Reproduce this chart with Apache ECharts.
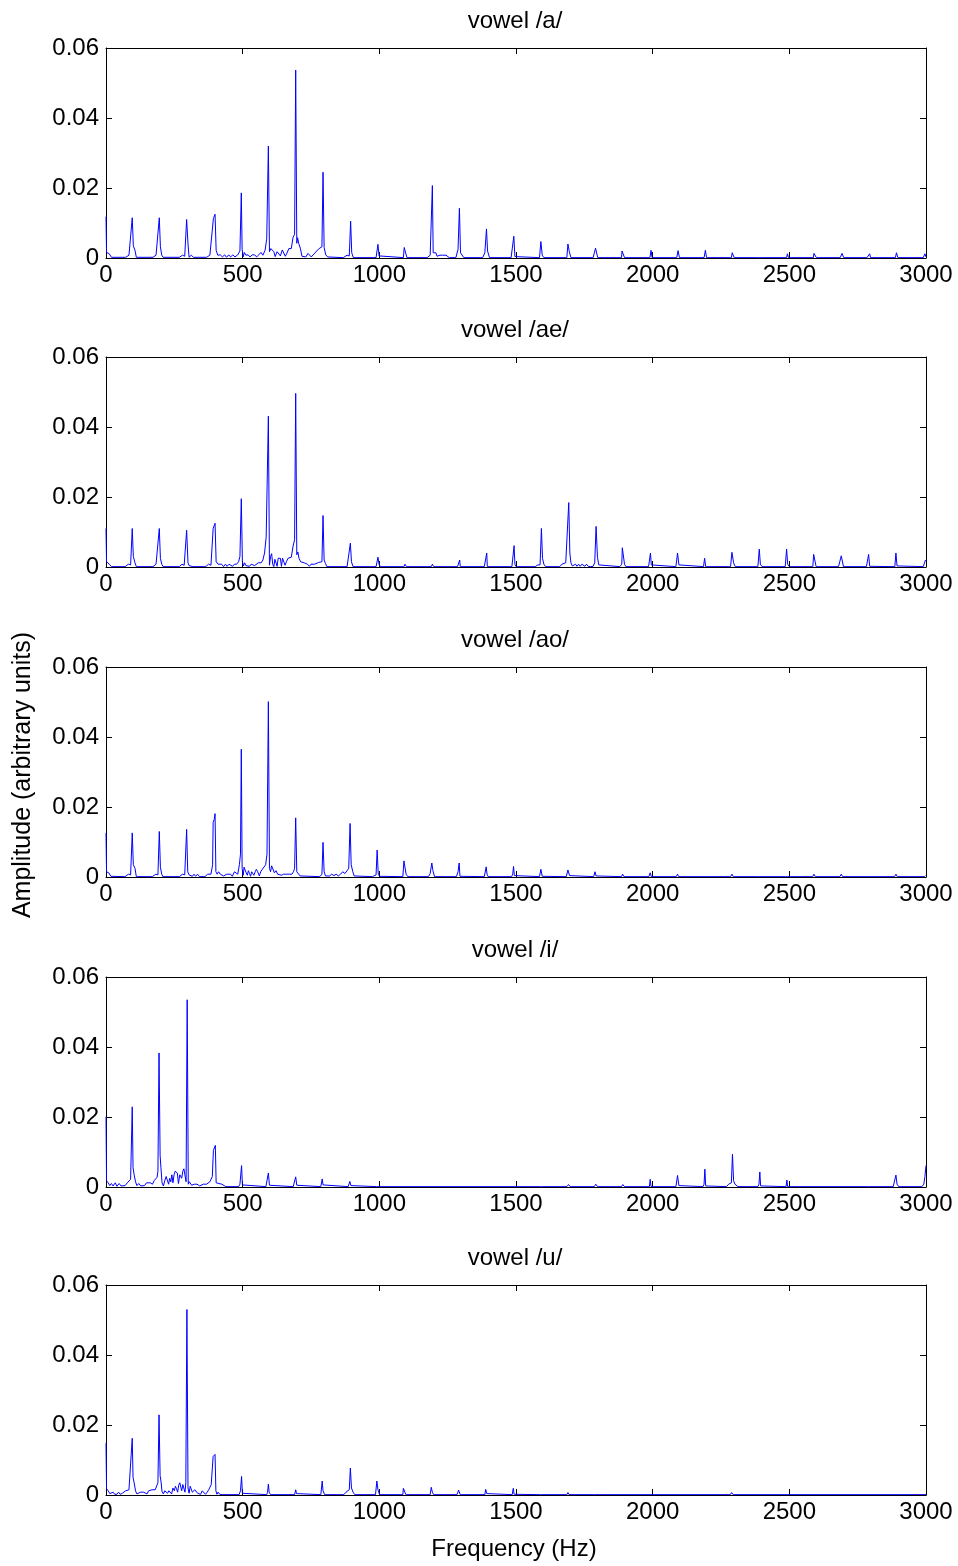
<!DOCTYPE html>
<html>
<head>
<meta charset="utf-8">
<script src="https://cdn.jsdelivr.net/npm/echarts@6/dist/echarts.min.js"></script>
<style>
html,body{margin:0;padding:0;background:#fff;}
#chart{width:958px;height:1566px;}
</style>
</head>
<body>
<div id="chart"></div>
<script>
var titles = ['vowel /a/', 'vowel /ae/', 'vowel /ao/', 'vowel /i/', 'vowel /u/'];
var xLabel = 'Frequency (Hz)';
var yLabel = 'Amplitude (arbitrary units)';
var xTicks = [0, 500, 1000, 1500, 2000, 2500, 3000];
var yTicks = [0, 0.02, 0.04, 0.06];

var vowelA = [[0,0.0118],[2,0.0016],[12,0.0012],[20,0.0002],[72,0.0002],[84,0.0008],[91,0.0006],[96,0.0115],[100,0.0035],[106,0.0022],[111,0.0002],
[172,0.0002],[183,0.0008],[190,0.0006],[195,0.0115],[199,0.0032],[204,0.0008],[209,0.0002],
[268,0.0002],[280,0.0008],[288,0.0005],[295,0.011],[300,0.004],[304,0.0002],[312,0.0008],[320,0.0002],
[368,0.0002],[380,0.0008],[387,0.0005],[393,0.0113],[396,0.0118],[399,0.0125],[403,0.0022],[409,0.0008],[418,0.0009],[426,0.0003],[434,0.0009],[441,0.0002],[449,0.0009],[456,0.0003],[464,0.0009],[472,0.0003],[482,0.0009],[490,0.002],[495,0.0186],[498,0.0025],[502,0.0003],[506,0.0016],[512,0.0008],[520,0.0009],[527,0.0003],[535,0.0009],[544,0.0009],[551,0.0003],[559,0.0009],[567,0.0016],[574,0.0008],[582,0.0022],[588,0.0055],[594,0.032],[598,0.0018],[603,0.0027],[609,0.0022],[614,0.0018],[619,0.0004],[626,0.0018],[632,0.0014],[638,0.0006],[645,0.0023],[651,0.002],[656,0.0005],[662,0.0014],[669,0.0027],[678,0.0027],[684,0.0058],[690,0.0068],[694,0.0537],[698,0.0042],[701,0.0058],[705,0.0042],[711,0.0028],[717,0.0005],[724,0.0008],[731,0.0003],[739,0.0013],[746,0.0013],[751,0.0003],[757,0.0008],[764,0.0014],[771,0.0019],[778,0.0026],[785,0.0026],[790,0.0032],[794,0.0245],[798,0.003],[804,0.0009],[811,0.0003],[818,0.0001],
[868,0.0001],[882,0.0008],[890,0.0006],[895,0.0105],[899,0.0015],[905,0.0001],
[988,0.0001],[995,0.0039],[999,0.0006],[1004,0.0001],
[1088,0.0001],[1091,0.003],[1098,0.003],[1101,0.0001],
[1175,0.0001],[1186,0.0008],[1190,0.0013],[1194,0.0207],[1197,0.0015],[1202,0.0015],[1207,0.0015],[1211,0.0005],[1217,0.0008],[1222,0.0008],[1226,0.0003],[1232,0.0008],[1238,0.0008],[1244,0.0008],[1250,0.0003],[1256,0.0001],
[1280,0.0001],[1288,0.0025],[1293,0.0142],[1297,0.0015],[1303,0.0012],[1309,0.0001],
[1378,0.0001],[1386,0.0015],[1392,0.0083],[1396,0.002],[1403,0.0001],
[1482,0.0001],[1489,0.0006],[1492,0.0062],[1496,0.0004],[1500,0.0001],
[1586,0.0001],[1591,0.0047],[1596,0.0008],[1602,0.0001],
[1686,0.0001],[1690,0.004],[1695,0.0018],[1701,0.0001],
[1782,0.0001],[1791,0.0028],[1799,0.0001],
[1886,0.0001],[1888,0.002],[1895,0.002],[1897,0.0001],
[1990,0.0001],[1994,0.0022],[1998,0.0001],
[2088,0.0001],[2093,0.0021],[2098,0.0001],
[2188,0.0001],[2193,0.0022],[2197,0.0001],
[2288,0.0001],[2291,0.0015],[2298,0.0001],
[2388,0.0001],[2392,0.0004],[2397,0.0001],
[2490,0.0001],[2493,0.0012],[2497,0.0001],
[2588,0.0001],[2590,0.0013],[2597,0.0013],[2599,0.0001],
[2686,0.0001],[2693,0.0013],[2699,0.0001],
[2784,0.0001],[2794,0.0012],[2797,0.0001],
[2888,0.0001],[2892,0.0015],[2897,0.0001],
[2990,0.0001],[2996,0.0012],[3000,0.0003]];

var vowelAE = [[0,0.011],[2,0.0015],[12,0.0008],[20,0.0001],[70,0.0001],[82,0.0008],[90,0.0006],[96,0.011],[100,0.003],[106,0.0012],[111,0.0001],
[172,0.0001],[183,0.0008],[190,0.0006],[195,0.011],[199,0.0025],[204,0.0008],[209,0.0001],
[268,0.0001],[278,0.0008],[286,0.0005],[295,0.0105],[300,0.0012],[304,0.0004],[310,0.0008],[318,0.0001],
[365,0.0001],[375,0.0008],[384,0.0005],[392,0.011],[396,0.0113],[399,0.0125],[403,0.0015],[410,0.0008],[416,0.0003],[423,0.0008],[430,0.0001],[437,0.0008],[443,0.0002],[450,0.0008],[457,0.0008],[463,0.0002],[470,0.0008],[478,0.0008],[485,0.0015],[490,0.003],[495,0.0195],[499,0.0015],[503,0.0003],[507,0.0012],[512,0.0004],[518,0.0008],[525,0.0002],[531,0.0008],[538,0.0008],[544,0.0004],[550,0.0008],[557,0.0012],[562,0.0008],[568,0.0012],[574,0.002],[580,0.004],[586,0.0085],[594,0.0431],[598,0.0005],[602,0.003],[606,0.0038],[610,0.0008],[614,0.0001],[618,0.0022],[622,0.0022],[626,0.0002],[630,0.0025],[634,0.0025],[638,0.0025],[642,0.0002],[646,0.0025],[650,0.0025],[655,0.0005],[660,0.0015],[666,0.0025],[672,0.0022],[678,0.0028],[684,0.0058],[690,0.0078],[694,0.0496],[698,0.0035],[702,0.0043],[706,0.0025],[712,0.0015],[718,0.0012],[725,0.0012],[731,0.0008],[737,0.0008],[744,0.0002],[750,0.0008],[757,0.0012],[763,0.0008],[770,0.0012],[778,0.0013],[785,0.001],[790,0.0015],[794,0.0147],[798,0.002],[803,0.001],[808,0.0001],
[882,0.0001],[888,0.0004],[894,0.0068],[898,0.0015],[904,0.0001],
[988,0.0001],[995,0.0028],[999,0.0008],[1004,0.0001],
[1090,0.0001],[1094,0.0008],[1099,0.0001],
[1190,0.0001],[1194,0.0008],[1199,0.0001],
[1286,0.0001],[1294,0.002],[1296,0.0001],
[1384,0.0001],[1393,0.004],[1395,0.0001],
[1485,0.0001],[1490,0.0006],[1493,0.0061],[1496,0.0008],[1500,0.0001],
[1570,0.0001],[1580,0.0006],[1588,0.0006],[1593,0.011],[1597,0.0025],[1602,0.0008],[1608,0.0001],[1660,0.0001],[1668,0.0008],[1675,0.0003],[1682,0.0012],[1688,0.0012],[1693,0.0184],[1697,0.004],[1701,0.0012],[1706,0.0003],[1712,0.0008],[1718,0.0008],[1723,0.0002],[1729,0.0008],[1735,0.0002],[1741,0.0008],[1747,0.0008],[1752,0.0002],[1758,0.0008],[1764,0.0002],[1772,0.0001],[1782,0.0002],[1788,0.0012],[1793,0.0116],[1798,0.0028],[1803,0.0006],[1810,0.0001],
[1880,0.0001],[1887,0.0008],[1889,0.0055],[1894,0.0059],[1897,0.0008],[1902,0.0001],
[1985,0.0001],[1992,0.004],[1995,0.0006],[2000,0.0001],
[2085,0.0001],[2091,0.004],[2096,0.0006],[2102,0.0001],
[2186,0.0001],[2190,0.0025],[2194,0.0001],
[2285,0.0001],[2290,0.0042],[2296,0.0012],[2302,0.0001],
[2385,0.0001],[2390,0.0051],[2394,0.0008],[2400,0.0001],
[2485,0.0001],[2490,0.0051],[2494,0.0008],[2500,0.0001],
[2586,0.0001],[2589,0.0036],[2595,0.0036],[2598,0.0001],
[2680,0.0001],[2690,0.0032],[2698,0.0001],
[2782,0.0001],[2790,0.0036],[2794,0.0002],
[2886,0.0001],[2890,0.004],[2894,0.0003],
[2990,0.0001],[2998,0.002],[3000,0.0018]];

var vowelAO = [[0,0.0126],[2,0.0015],[10,0.0012],[18,0.0002],[70,0.0001],[82,0.0008],[90,0.0006],[96,0.0126],[100,0.0035],[106,0.0025],[111,0.0001],
[170,0.0001],[182,0.0008],[190,0.0006],[195,0.013],[199,0.0028],[204,0.0008],[208,0.0001],
[268,0.0001],[280,0.0008],[288,0.0006],[295,0.0136],[299,0.0015],[304,0.0006],[310,0.0008],[316,0.0002],[322,0.0008],[328,0.0002],[335,0.0008],[342,0.0001],
[362,0.0001],[372,0.0008],[384,0.0008],[390,0.0035],[392,0.0156],[396,0.0165],[399,0.0181],[402,0.0015],[407,0.0008],[412,0.0015],[418,0.0008],[424,0.0008],[430,0.0003],[436,0.0008],[442,0.0008],[448,0.0003],[456,0.0008],[462,0.0002],[470,0.0015],[476,0.0012],[482,0.0008],[488,0.0035],[492,0.0065],[495,0.0365],[498,0.0025],[502,0.0005],[505,0.0028],[509,0.003],[513,0.0012],[517,0.0005],[521,0.0018],[525,0.001],[529,0.0002],[533,0.0015],[537,0.0015],[541,0.0005],[546,0.0015],[550,0.0022],[555,0.0015],[561,0.0003],[566,0.0015],[572,0.0022],[578,0.002],[584,0.0035],[589,0.0065],[594,0.0501],[598,0.0025],[602,0.0015],[606,0.0032],[611,0.003],[616,0.0012],[622,0.0018],[628,0.0008],[635,0.0012],[642,0.0005],[650,0.0008],[658,0.0008],[665,0.0005],[672,0.0008],[680,0.0008],[686,0.0015],[690,0.0025],[694,0.0169],[698,0.0015],[703,0.0012],[710,0.0003],[716,0.0001],
[782,0.0001],[790,0.0008],[794,0.0099],[798,0.0015],[803,0.0003],[810,0.0008],[818,0.0003],[826,0.0008],[834,0.0004],[842,0.0008],[850,0.0003],[858,0.0008],[866,0.0015],[874,0.001],[882,0.0018],[888,0.0025],[893,0.0153],[897,0.0035],[903,0.0015],[908,0.0003],[914,0.0001],
[975,0.0001],[982,0.0003],[988,0.0006],[992,0.0077],[996,0.0008],[1001,0.0002],[1006,0.0001],
[1086,0.0001],[1090,0.0046],[1094,0.0043],[1098,0.0008],[1104,0.0001],
[1180,0.0001],[1186,0.001],[1192,0.004],[1196,0.0018],[1202,0.0001],
[1282,0.0001],[1288,0.0015],[1292,0.004],[1295,0.0002],
[1384,0.0001],[1391,0.0029],[1394,0.0008],[1398,0.0001],
[1484,0.0001],[1488,0.0008],[1491,0.003],[1494,0.0004],[1498,0.0001],
[1586,0.0001],[1591,0.0022],[1596,0.0002],
[1684,0.0001],[1690,0.002],[1696,0.0004],[1700,0.0001],
[1784,0.0001],[1789,0.0015],[1793,0.0003],[1797,0.0001],
[1886,0.0001],[1890,0.0008],[1895,0.0001],
[1986,0.0001],[1991,0.0012],[1995,0.0001],
[2086,0.0001],[2091,0.0008],[2095,0.0001],
[2188,0.0001],[2191,0.0003],[2194,0.0001],
[2285,0.0001],[2290,0.0008],[2295,0.0001],
[2388,0.0001],[2391,0.0003],[2394,0.0001],
[2486,0.0001],[2490,0.0005],[2494,0.0001],
[2585,0.0001],[2590,0.0008],[2595,0.0001],
[2685,0.0001],[2690,0.0008],[2695,0.0001],
[2788,0.0001],[2791,0.0003],[2794,0.0001],
[2885,0.0001],[2890,0.0008],[2895,0.0001],
[2994,0.0001],[2998,0.0004],[3000,0.0003]];

var vowelI = [[0,0.0201],[2,0.0018],[8,0.0012],[14,0.0004],[20,0.001],[26,0.0003],[34,0.0012],[40,0.0002],[48,0.001],[55,0.0003],[62,0.0008],[70,0.0004],[78,0.0012],[85,0.0012],[90,0.0022],[96,0.0229],[99,0.0055],[103,0.0035],[108,0.0015],[113,0.0004],[120,0.001],[127,0.0003],[134,0.0008],[141,0.0004],[148,0.0012],[155,0.0008],[162,0.0012],[170,0.0008],[176,0.0018],[182,0.0018],[187,0.0028],[190,0.0045],[194,0.0383],[198,0.009],[201,0.0055],[205,0.0012],[210,0.0003],[215,0.0018],[220,0.003],[225,0.0025],[229,0.0008],[233,0.0025],[237,0.0015],[241,0.0035],[245,0.0012],[249,0.0035],[253,0.0045],[257,0.0045],[261,0.004],[265,0.001],[270,0.0035],[274,0.0035],[277,0.0025],[281,0.0045],[285,0.0052],[289,0.0048],[293,0.0015],[297,0.0535],[301,0.0008],[305,0.0015],[309,0.0012],[313,0.0005],[318,0.001],[323,0.0008],[328,0.0003],[333,0.0008],[338,0.0008],[343,0.0003],[350,0.0008],[356,0.0008],[362,0.0004],[368,0.0008],[374,0.001],[380,0.0015],[385,0.0012],[389,0.003],[393,0.0105],[397,0.011],[400,0.0119],[403,0.0012],[408,0.0008],[413,0.001],[418,0.0005],[424,0.0008],[430,0.0003],[438,0.0001],
[485,0.0001],[490,0.0008],[496,0.0061],[499,0.0006],[504,0.0001],
[585,0.0001],[590,0.0006],[594,0.004],[598,0.0005],[603,0.0001],
[685,0.0001],[690,0.0005],[694,0.0029],[698,0.0005],[702,0.0001],
[786,0.0001],[791,0.0023],[794,0.0006],[799,0.0001],
[886,0.0001],[892,0.0016],[896,0.0004],[900,0.0001],
[990,0.0001],[995,0.0004],[1000,0.0001],
[1590,0.0001],[1594,0.0003],[1598,0.0001],
[1686,0.0001],[1692,0.0007],[1698,0.0001],
[1786,0.0001],[1792,0.0008],[1798,0.0001],
[1886,0.0001],[1891,0.0007],[1897,0.0001],
[1988,0.0001],[1991,0.0022],[1994,0.0001],
[2085,0.0001],[2091,0.0033],[2096,0.0004],[2100,0.0001],
[2184,0.0001],[2188,0.0008],[2191,0.0051],[2194,0.0003],[2198,0.0001],
[2270,0.0001],[2278,0.0008],[2284,0.0012],[2288,0.0012],[2292,0.0094],[2296,0.0018],[2301,0.0008],[2306,0.0003],[2312,0.0001],
[2385,0.0001],[2389,0.0008],[2392,0.0043],[2395,0.0003],[2400,0.0001],
[2488,0.0001],[2491,0.002],[2494,0.0001],
[2790,0.0001],[2793,0.0003],[2796,0.0001],
[2880,0.0001],[2886,0.0005],[2890,0.0034],[2894,0.0008],[2900,0.0001],
[2985,0.0001],[2992,0.0008],[2996,0.003],[3000,0.0061]];

var vowelU = [[0,0.0148],[2,0.0018],[8,0.0012],[14,0.0004],[20,0.0002],[26,0.0008],[32,0.0002],[40,0.0002],[46,0.0008],[52,0.0002],[60,0.0005],[66,0.0008],[72,0.0012],[78,0.0012],[84,0.0015],[90,0.002],[96,0.0162],[99,0.005],[103,0.0035],[108,0.0012],[113,0.0003],[120,0.0008],[126,0.0008],[132,0.0003],[138,0.0008],[145,0.0008],[150,0.0003],[156,0.0012],[162,0.0008],[168,0.0015],[174,0.0012],[180,0.0015],[186,0.002],[190,0.0035],[194,0.0229],[198,0.0055],[201,0.004],[205,0.001],[210,0.0003],[215,0.0012],[220,0.0012],[225,0.0005],[230,0.0012],[236,0.0008],[240,0.0003],[245,0.002],[250,0.0012],[254,0.0025],[258,0.0018],[262,0.0008],[266,0.0028],[270,0.0035],[274,0.0035],[277,0.0012],[281,0.003],[285,0.0028],[289,0.0008],[292,0.0035],[296,0.053],[300,0.002],[304,0.0005],[308,0.0025],[312,0.0028],[316,0.0008],[320,0.0003],[325,0.0015],[330,0.0012],[335,0.0005],[340,0.0008],[346,0.0002],[352,0.0012],[358,0.0008],[364,0.0002],[370,0.0008],[376,0.0015],[381,0.0012],[385,0.003],[390,0.0035],[392,0.011],[396,0.0113],[399,0.0116],[402,0.0012],[406,0.0002],[410,0.0008],[416,0.0002],[425,0.0001],
[487,0.0001],[492,0.0012],[496,0.0053],[499,0.0005],[504,0.0001],
[588,0.0001],[591,0.0008],[594,0.0031],[597,0.0008],[602,0.0001],
[690,0.0001],[694,0.0015],[697,0.0004],[702,0.0001],
[786,0.0001],[791,0.004],[794,0.0012],[800,0.0001],
[870,0.0001],[878,0.0008],[884,0.0008],[890,0.0015],[894,0.0077],[898,0.002],[904,0.0008],[910,0.0001],
[986,0.0001],[991,0.004],[995,0.0015],[1001,0.0001],
[1086,0.0001],[1088,0.0019],[1095,0.0019],[1097,0.0001],
[1186,0.0001],[1190,0.0022],[1194,0.0008],[1199,0.0001],
[1284,0.0001],[1290,0.0014],[1296,0.0001],
[1386,0.0001],[1389,0.0016],[1393,0.0004],[1398,0.0001],
[1486,0.0001],[1490,0.0019],[1493,0.0002],
[1590,0.0001],[1593,0.0003],[1596,0.0001],
[1686,0.0001],[1690,0.0007],[1694,0.0001],
[1788,0.0001],[1791,0.0002],[1794,0.0001],
[2284,0.0001],[2289,0.0007],[2294,0.0001],
[3000,0.0001]];

var spectra = [vowelA, vowelAE, vowelAO, vowelI, vowelU];

var FONT = 'Liberation Sans, Arial, sans-serif';
var FS = 24;
var gridTops = [48, 357, 667, 977, 1285];
var gridH = 210, gridL = 106, gridW = 820;

var grids = [], xAxes = [], yAxes = [], series = [], graphics = [];
var tickStyle = {show: true, inside: true, length: 6, lineStyle: {color: '#000', width: 1}};
var lineStyleAx = {show: true, onZero: false, lineStyle: {color: '#000', width: 1}};

for (var i = 0; i < 5; i++) {
  grids.push({left: gridL, top: gridTops[i], width: gridW, height: gridH, containLabel: false});
  var xBase = {gridIndex: i, type: 'value', min: xTicks[0], max: xTicks[xTicks.length - 1],
    interval: xTicks[1] - xTicks[0], splitLine: {show: false}, axisLine: lineStyleAx, axisTick: tickStyle};
  xAxes.push(Object.assign({}, xBase, {position: 'bottom',
    axisLabel: {show: true, color: '#000', fontSize: FS, fontFamily: FONT, margin: 5, showMinLabel: true, showMaxLabel: true,
      formatter: function (v) { return String(v); }}}));
  xAxes.push(Object.assign({}, xBase, {position: 'top', axisLabel: {show: false}}));
  var yBase = {gridIndex: i, type: 'value', min: yTicks[0], max: yTicks[yTicks.length - 1],
    interval: yTicks[1] - yTicks[0], splitLine: {show: false}, axisLine: lineStyleAx, axisTick: tickStyle};
  yAxes.push(Object.assign({}, yBase, {position: 'left',
    axisLabel: {show: true, color: '#000', fontSize: FS, fontFamily: FONT, margin: 7,
      formatter: function (v) { return Math.abs(v) < 1e-9 ? '0' : v.toFixed(2); }}}));
  yAxes.push(Object.assign({}, yBase, {position: 'right', axisLabel: {show: false}}));
  series.push({type: 'line', xAxisIndex: i * 2, yAxisIndex: i * 2, data: spectra[i],
    symbol: 'none', showSymbol: false, clip: true, animation: false,
    lineStyle: {color: '#0000ff', width: 1}});
  graphics.push({type: 'text', x: gridL + gridW / 2 - 1, y: gridTops[i] - 27,
    style: {text: titles[i], fill: '#000', font: FS + 'px ' + FONT, textAlign: 'center', textVerticalAlign: 'middle'}});
}
graphics.push({type: 'text', x: 514, y: 1549,
  style: {text: xLabel, fill: '#000', font: FS + 'px ' + FONT, textAlign: 'center', textVerticalAlign: 'middle'}});
graphics.push({type: 'text', x: 23, y: 775, rotation: Math.PI / 2,
  style: {text: yLabel, fill: '#000', font: '25px ' + FONT, textAlign: 'center', textVerticalAlign: 'middle'}});

var chart = echarts.init(document.getElementById('chart'), null, {renderer: 'canvas'});
chart.setOption({
  animation: false,
  backgroundColor: '#fff',
  grid: grids,
  xAxis: xAxes,
  yAxis: yAxes,
  series: series,
  graphic: graphics
});
</script>
</body>
</html>
